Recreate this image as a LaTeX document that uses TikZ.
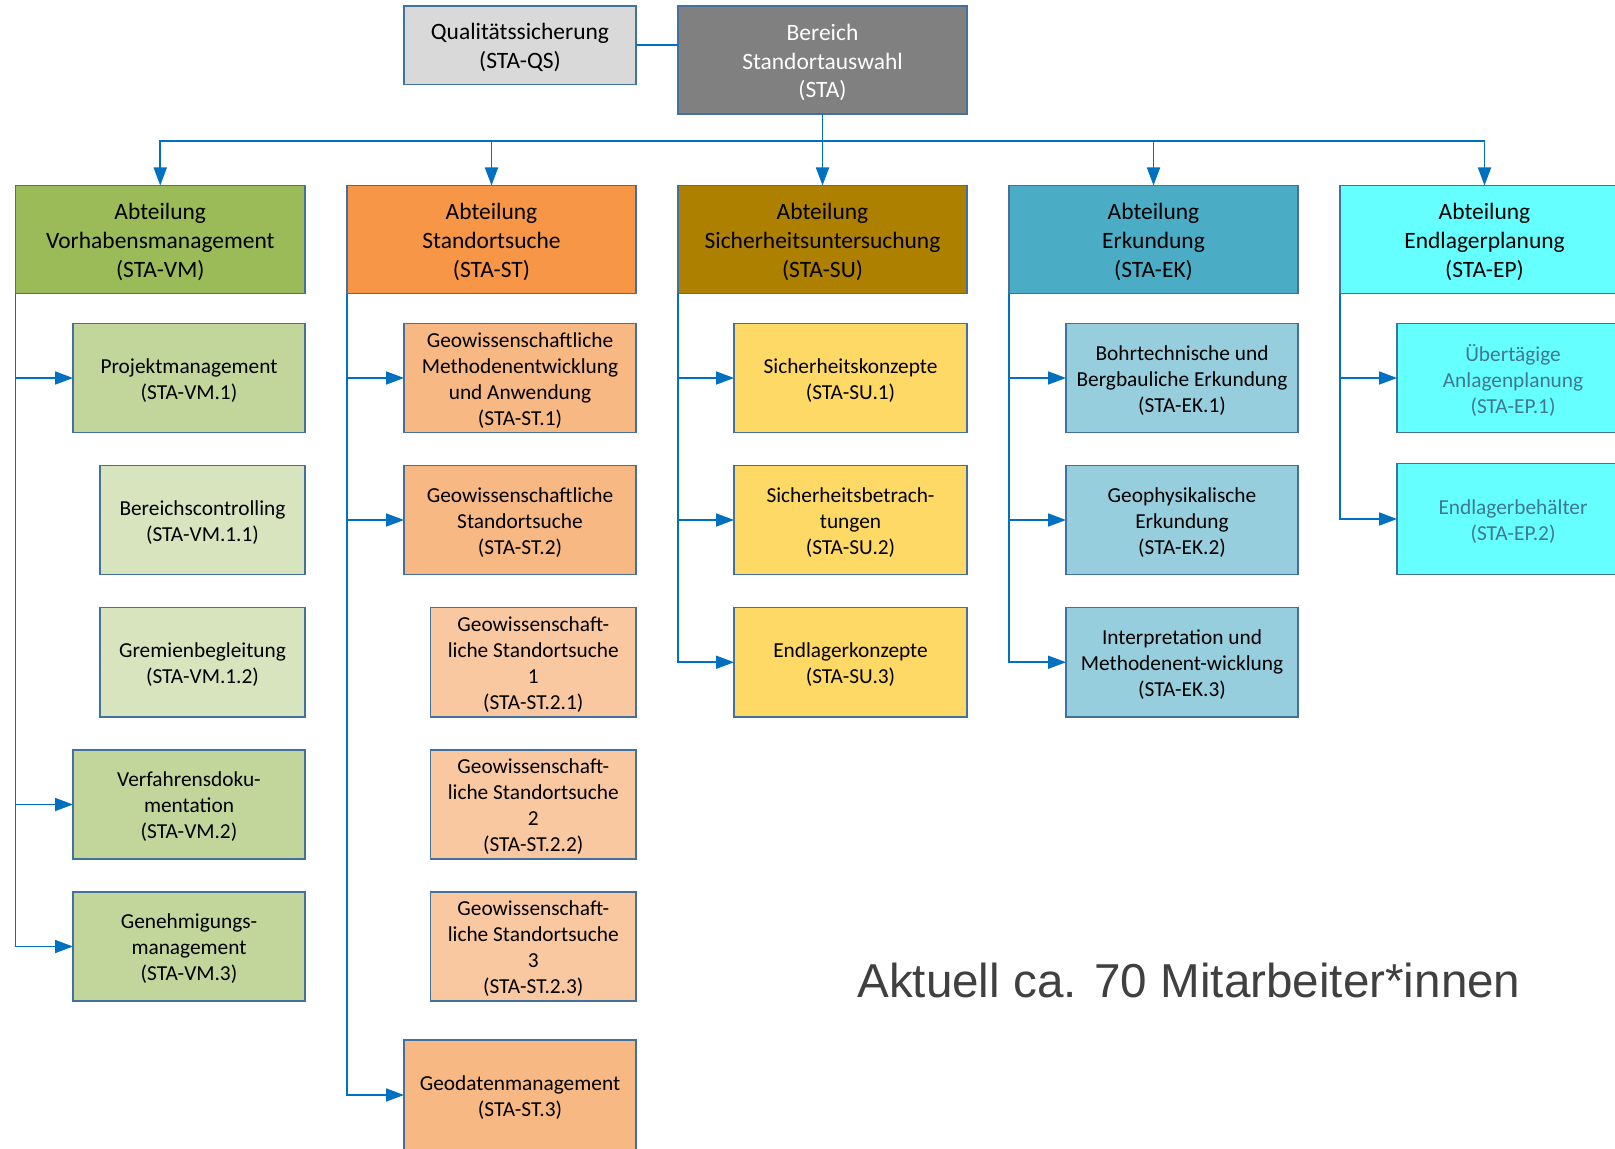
\documentclass[tikz,border=0pt]{standalone}
\usepackage{fontspec}
\setmainfont{Carlito}
\newfontfamily\notefont{Liberation Sans}
\usetikzlibrary{arrows.meta}

\definecolor{frame}{HTML}{41719C}
\definecolor{wire}{HTML}{0070C0}
\definecolor{qsfill}{HTML}{D9D9D9}
\definecolor{stafill}{HTML}{808080}
\definecolor{vmdept}{HTML}{9BBB59}
\definecolor{vmsub}{HTML}{C2D69B}
\definecolor{vmpale}{HTML}{D7E4BD}
\definecolor{stdept}{HTML}{F79646}
\definecolor{stsub}{HTML}{F8B884}
\definecolor{stpale}{HTML}{FAC8A0}
\definecolor{sudept}{HTML}{AD8000}
\definecolor{susub}{HTML}{FFD966}
\definecolor{ekdept}{HTML}{4BACC6}
\definecolor{eksub}{HTML}{97CEDE}
\definecolor{epfill}{HTML}{66FFFF}
\definecolor{eptext}{HTML}{3F7890}
\definecolor{notegray}{HTML}{404040}

% box from corner (x1,y1) to corner (x2,y2), in pixel units;
% the label sits in its own node, set a little below the box centre
\newcommand\orgbox[7]{%
  \node[#6, minimum width={(#4-#2)*0.75pt}, minimum height={(#5-#3)*0.75pt}]
    (#1) at ({(#2+#4)/2},{(#3+#5)/2}) {};
  \node[#6, draw=none, fill=none, yshift=-1.9pt] (#1-label) at (#1.center) {#7};}

\tikzset{
  unit/.style={draw=frame, line width=1.1pt, inner sep=0pt, outer sep=0pt,
    align=center, text=black},
  head/.style={unit, font=\fontsize{17.6}{21.5}\selectfont},
  sub/.style={unit, font=\fontsize{16}{19.5}\selectfont},
  wireline/.style={draw=wire, line width=1.3pt},
  arrow/.style={wireline, -{Triangle[length=13.5pt,width=9.75pt]}},
}

\begin{document}
\begin{tikzpicture}[x=0.75pt, y=-0.75pt]
\clip (0,0) rectangle (1615,1148);
\fill[white] (0,0) rectangle (1615,1148);

% top level
\orgbox{qs}{404}{6}{636}{84.5}{head, fill=qsfill}{Qualitätssicherung\\(STA-QS)}
\orgbox{sta}{678}{6}{967}{114}{head, fill=stafill, text=white}{Bereich\\Standortauswahl\\(STA)}

% departments
\orgbox{vm}{15.5}{185.5}{305}{293.5}{head, fill=vmdept}{Abteilung\\Vorhabensmanagement\\(STA-VM)}
\orgbox{st}{347}{185.5}{636}{293.5}{head, fill=stdept}{Abteilung\\Standortsuche\\(STA-ST)}
\orgbox{su}{678}{185.5}{967}{293.5}{head, fill=sudept}{Abteilung\\Sicherheitsuntersuchung\\(STA-SU)}
\orgbox{ek}{1009}{185.5}{1298}{293.5}{head, fill=ekdept}{Abteilung\\Erkundung\\(STA-EK)}
\orgbox{ep}{1340}{185.5}{1629}{293.5}{head, fill=epfill}{Abteilung\\Endlagerplanung\\(STA-EP)}

% Vorhabensmanagement
\orgbox{vm1}{73}{323.5}{305}{432.5}{sub, fill=vmsub}{Projektmanagement\\(STA-VM.1)}
\orgbox{vm11}{100}{465.5}{305}{574.5}{sub, fill=vmpale}{Bereichscontrolling\\(STA-VM.1.1)}
\orgbox{vm12}{100}{607.5}{305}{717}{sub, fill=vmpale}{Gremienbegleitung\\(STA-VM.1.2)}
\orgbox{vm2}{73}{750}{305}{859}{sub, fill=vmsub}{Verfahrensdoku-\\mentation\\(STA-VM.2)}
\orgbox{vm3}{73}{892}{305}{1001}{sub, fill=vmsub}{Genehmigungs-\\management\\(STA-VM.3)}

% Standortsuche
\orgbox{st1}{404}{323.5}{636}{432.5}{sub, fill=stsub}{Geowissenschaftliche\\Methodenentwicklung\\und Anwendung\\(STA-ST.1)}
\orgbox{st2}{404}{465.5}{636}{574.5}{sub, fill=stsub}{Geowissenschaftliche\\Standortsuche\\(STA-ST.2)}
\orgbox{st21}{430.5}{607.5}{636}{717}{sub, fill=stpale}{Geowissenschaft-\\liche Standortsuche\\1\\(STA-ST.2.1)}
\orgbox{st22}{430.5}{750}{636}{859}{sub, fill=stpale}{Geowissenschaft-\\liche Standortsuche\\2\\(STA-ST.2.2)}
\orgbox{st23}{430.5}{892}{636}{1001}{sub, fill=stpale}{Geowissenschaft-\\liche Standortsuche\\3\\(STA-ST.2.3)}
\orgbox{st3}{404}{1040}{636}{1150}{sub, fill=stsub}{Geodatenmanagement\\(STA-ST.3)}

% Sicherheitsuntersuchung
\orgbox{su1}{734}{323.5}{967}{432.5}{sub, fill=susub}{Sicherheitskonzepte\\(STA-SU.1)}
\orgbox{su2}{734}{465.5}{967}{574.5}{sub, fill=susub}{Sicherheitsbetrach-\\tungen\\(STA-SU.2)}
\orgbox{su3}{734}{607.5}{967}{717}{sub, fill=susub}{Endlagerkonzepte\\(STA-SU.3)}

% Erkundung
\orgbox{ek1}{1066}{323.5}{1298}{432.5}{sub, fill=eksub}{Bohrtechnische und\\Bergbauliche Erkundung\\(STA-EK.1)}
\orgbox{ek2}{1066}{465.5}{1298}{574.5}{sub, fill=eksub}{Geophysikalische\\Erkundung\\(STA-EK.2)}
\orgbox{ek3}{1066}{607.5}{1298}{717}{sub, fill=eksub}{Interpretation und\\Methodenent-wicklung\\(STA-EK.3)}

% Endlagerplanung
\orgbox{ep1}{1397}{323.5}{1629}{432.5}{sub, fill=epfill, text=eptext}{Übertägige\\Anlagenplanung\\(STA-EP.1)}
\orgbox{ep2}{1397}{463.5}{1629}{574.5}{sub, fill=epfill, text=eptext}{Endlagerbehälter\\(STA-EP.2)}

% connectors: top level
\draw[wireline] (qs.east) -- (qs.east -| sta.west);
\coordinate (bus) at (sta.south |- 0,141);
\draw[wireline] (sta.south) -- (bus);
\foreach \d in {vm,st,su,ek,ep}
  \draw[arrow] (bus) -| (\d.north);

% connectors: departments to units
\foreach \d/\u in {vm/vm1, vm/vm2, vm/vm3,
                   st/st1, st/st2, st/st3,
                   su/su1, su/su2, su/su3,
                   ek/ek1, ek/ek2, ek/ek3,
                   ep/ep1, ep/ep2}
  \draw[arrow] (\d.south west) |- (\u.west);

% staff note
\node[anchor=base west, inner sep=0pt, text=notegray,
      font=\notefont\fontsize{35.7}{43}\selectfont] (note) at (857,997)
  {Aktuell ca. 70 Mitarbeiter*innen};
\end{tikzpicture}
\end{document}
